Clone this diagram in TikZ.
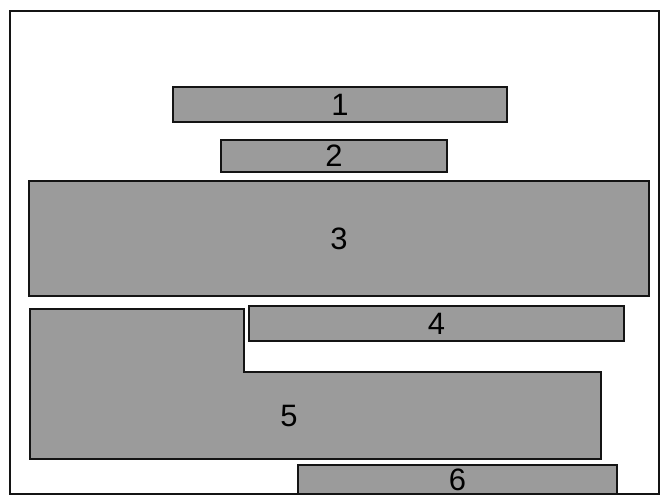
\documentclass[tikz,border=0pt]{standalone}
\usepackage{fontspec}
\setmainfont{Liberation Sans}
\usepackage{tikz}
\usepackage{xcolor}
\usetikzlibrary{positioning}
\definecolor{ink}{HTML}{141414}
\definecolor{shade}{HTML}{9B9B9B}
\begin{document}
\begin{tikzpicture}[x=0.025cm,y=-0.025cm,font=\fontsize{22}{26}\selectfont,
  blk/.style={draw=ink,fill=shade,line width=1.6pt,inner sep=0pt},
  frame/.style={draw=ink,line width=1.5pt}]
  \useasboundingbox (0,0) rectangle (667,495);

  % outer frame
  \draw[frame] (10,11) rectangle (659,494);

  % stacked boxes
  \node[blk,minimum width=8.35cm,minimum height=0.875cm] (b1) at (340,104.5) {1};
  \node[blk,minimum width=5.65cm,minimum height=0.8cm] (b2) at (334,156) {2};
  \node[blk,minimum width=15.5cm,minimum height=2.875cm] (b3) at (339,238.5) {3};
  \node[blk,minimum width=9.375cm,minimum height=0.875cm] (b4) at (436.5,323.5) {4};
  \node[blk,minimum width=7.975cm,minimum height=0.725cm] (b6) at (457.5,479.5) {6};

  % L-shaped block
  \draw[blk] (30,309) -- (244,309) -- (244,372) -- (601,372) -- (601,459) -- (30,459) -- cycle;
  \node (b5) at (289,416) {5};
\end{tikzpicture}
\end{document}
